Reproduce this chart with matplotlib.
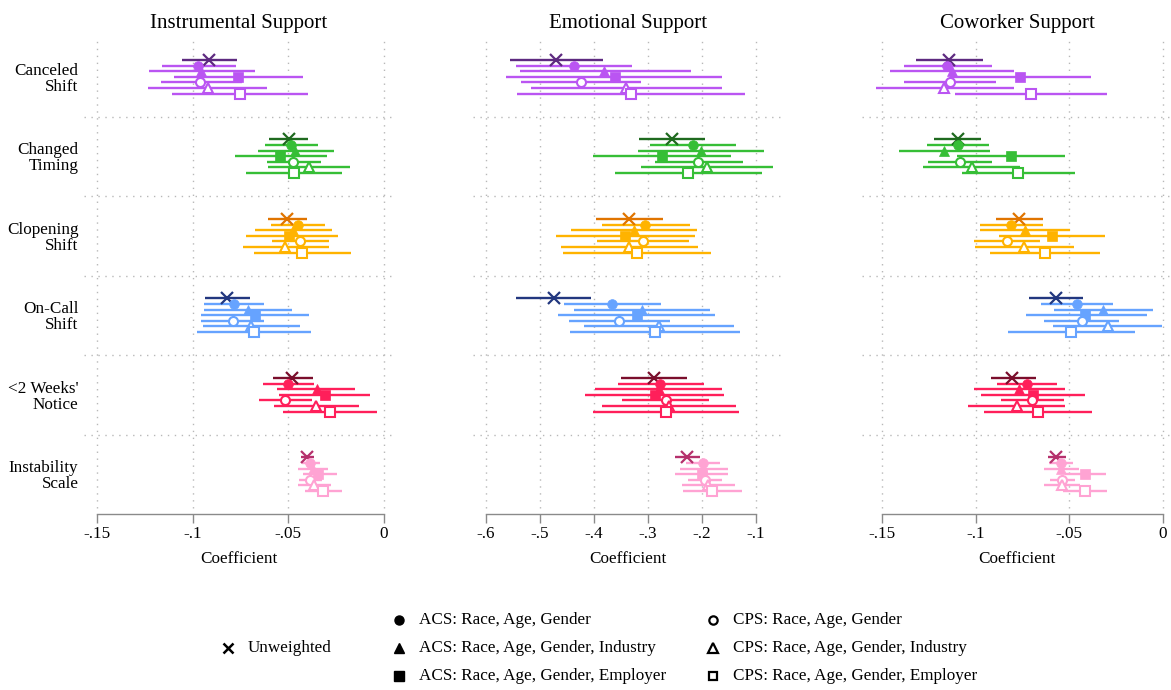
import matplotlib
matplotlib.use("Agg")
import matplotlib.pyplot as plt

plt.rcParams['font.family'] = ['Liberation Serif', 'DejaVu Serif']

categories = ["Canceled\nShift", "Changed\nTiming", "Clopening\nShift",
              "On-Call\nShift", "<2 Weeks'\nNotice", "Instability\nScale"]
models = ["Unweighted", "ACS: Race, Age, Gender", "ACS: Race, Age, Gender, Industry",
          "ACS: Race, Age, Gender, Employer", "CPS: Race, Age, Gender",
          "CPS: Race, Age, Gender, Industry", "CPS: Race, Age, Gender, Employer"]
panel_titles = ["Instrumental Support", "Emotional Support", "Coworker Support"]

# ---- Instrumental support ----
instr_est = [[-0.0913, -0.0970, -0.0957, -0.0762, -0.0962, -0.0922, -0.0755],
             [-0.0498, -0.0484, -0.0467, -0.0542, -0.0476, -0.0392, -0.0470],
             [-0.0509, -0.0450, -0.0474, -0.0495, -0.0437, -0.0516, -0.0427],
             [-0.0819, -0.0783, -0.0712, -0.0674, -0.0790, -0.0694, -0.0682],
             [-0.0481, -0.0502, -0.0352, -0.0307, -0.0517, -0.0354, -0.0285],
             [-0.0401, -0.0385, -0.0373, -0.0344, -0.0389, -0.0366, -0.0318]]
instr_lo = [[-0.1057, -0.1160, -0.1229, -0.1097, -0.1165, -0.1236, -0.1108],
            [-0.0602, -0.0622, -0.0660, -0.0780, -0.0611, -0.0608, -0.0720],
            [-0.0609, -0.0589, -0.0674, -0.0724, -0.0585, -0.0738, -0.0679],
            [-0.0938, -0.0939, -0.0943, -0.0955, -0.0955, -0.0948, -0.0977],
            [-0.0578, -0.0635, -0.0557, -0.0547, -0.0655, -0.0573, -0.0530],
            [-0.0434, -0.0430, -0.0448, -0.0425, -0.0443, -0.0448, -0.0413]]
instr_hi = [[-0.0767, -0.0773, -0.0677, -0.0424, -0.0741, -0.0611, -0.0398],
            [-0.0398, -0.0347, -0.0262, -0.0300, -0.0332, -0.0177, -0.0220],
            [-0.0403, -0.0309, -0.0273, -0.0243, -0.0290, -0.0290, -0.0174],
            [-0.0703, -0.0625, -0.0483, -0.0390, -0.0625, -0.0438, -0.0384],
            [-0.0373, -0.0366, -0.0151, -0.0073, -0.0378, -0.0130, -0.0035],
            [-0.0366, -0.0333, -0.0292, -0.0247, -0.0326, -0.0278, -0.0220]]

# ---- Emotional support ----
emo_est = [[-0.4698, -0.4377, -0.3809, -0.3617, -0.4241, -0.3407, -0.3315],
           [-0.2549, -0.2167, -0.2012, -0.2747, -0.2068, -0.1907, -0.2253],
           [-0.3352, -0.3050, -0.3253, -0.3420, -0.3093, -0.3358, -0.3198],
           [-0.4747, -0.3660, -0.3105, -0.3210, -0.3537, -0.2802, -0.2870],
           [-0.2895, -0.2772, -0.2800, -0.2877, -0.2673, -0.2611, -0.2673],
           [-0.2284, -0.1981, -0.1980, -0.2006, -0.1944, -0.1889, -0.1809]]
emo_lo = [[-0.5556, -0.5450, -0.5377, -0.5623, -0.5358, -0.5160, -0.5420],
          [-0.3167, -0.2969, -0.3185, -0.4025, -0.2877, -0.3136, -0.3611],
          [-0.3963, -0.3852, -0.4420, -0.4704, -0.3938, -0.4611, -0.4568],
          [-0.5438, -0.4550, -0.4377, -0.4667, -0.4469, -0.4191, -0.4444],
          [-0.3494, -0.3556, -0.3988, -0.4167, -0.3481, -0.3858, -0.4019],
          [-0.2506, -0.2290, -0.2414, -0.2500, -0.2259, -0.2370, -0.2358]]
emo_hi = [[-0.3827, -0.3296, -0.2204, -0.1623, -0.3123, -0.1623, -0.1204],
          [-0.1938, -0.1364, -0.0852, -0.1457, -0.1240, -0.0685, -0.0889],
          [-0.2722, -0.2228, -0.2086, -0.2136, -0.2241, -0.2074, -0.1827],
          [-0.4050, -0.2759, -0.1852, -0.1759, -0.2599, -0.1414, -0.1290],
          [-0.2284, -0.1969, -0.1623, -0.1593, -0.1864, -0.1364, -0.1315],
          [-0.2037, -0.1673, -0.1512, -0.1512, -0.1630, -0.1383, -0.1259]]

# ---- Coworker support ----
cow_est = [[-0.1143, -0.1151, -0.1127, -0.0763, -0.1136, -0.1167, -0.0705],
           [-0.1097, -0.1097, -0.1167, -0.0812, -0.1085, -0.1020, -0.0772],
           [-0.0769, -0.0810, -0.0738, -0.0590, -0.0833, -0.0742, -0.0630],
           [-0.0571, -0.0460, -0.0318, -0.0414, -0.0433, -0.0296, -0.0492],
           [-0.0805, -0.0728, -0.0769, -0.0692, -0.0701, -0.0780, -0.0669],
           [-0.0573, -0.0544, -0.0544, -0.0416, -0.0537, -0.0539, -0.0419]]
cow_lo = [[-0.1320, -0.1382, -0.1456, -0.1136, -0.1384, -0.1534, -0.1110],
          [-0.1220, -0.1259, -0.1409, -0.1099, -0.1256, -0.1279, -0.1074],
          [-0.0894, -0.0979, -0.0979, -0.0874, -0.1011, -0.1006, -0.0926],
          [-0.0715, -0.0649, -0.0582, -0.0731, -0.0633, -0.0587, -0.0828],
          [-0.0920, -0.0888, -0.1011, -0.0970, -0.0867, -0.1042, -0.0958],
          [-0.0615, -0.0610, -0.0637, -0.0524, -0.0603, -0.0635, -0.0535]]
cow_hi = [[-0.0961, -0.0915, -0.0797, -0.0384, -0.0892, -0.0797, -0.0298],
          [-0.0972, -0.0929, -0.0924, -0.0523, -0.0913, -0.0762, -0.0471],
          [-0.0640, -0.0640, -0.0498, -0.0310, -0.0655, -0.0474, -0.0334],
          [-0.0428, -0.0269, -0.0052, -0.0087, -0.0234, -0.0004, -0.0152],
          [-0.0676, -0.0565, -0.0524, -0.0416, -0.0530, -0.0523, -0.0378],
          [-0.0517, -0.0478, -0.0450, -0.0307, -0.0469, -0.0441, -0.0300]]

panel_ticks = [[-0.15, -0.1, -0.05, 0], [-0.6, -0.5, -0.4, -0.3, -0.2, -0.1],
               [-0.15, -0.1, -0.05, 0]]
panel_ticklabels = [["-.15", "-.1", "-.05", "0"], ["-.6", "-.5", "-.4", "-.3", "-.2", "-.1"],
                    ["-.15", "-.1", "-.05", "0"]]
panel_xlim = [(-0.1568, 0.0052), (-0.624, -0.05), (-0.1607, 0.0048)]

light_colors = ["#BA55F2", "#36BE36", "#FFB300", "#66A3FF", "#FF1F5A", "#FFA3D3"]
dark_colors = ["#5E2A80", "#1F6A1F", "#E07400", "#22377F", "#7A0E2C", "#B5306C"]

markers = ["x", "o", "^", "s", "o", "^", "s"]
filled = [True, True, True, True, False, False, False]
msizes = [8, 7, 7.5, 7, 6.5, 7, 6.5]

FS = 12.3
W, H = 1171, 690
fig = plt.figure(figsize=(W / 100, H / 100), dpi=100)

panel_data = [(instr_est, instr_lo, instr_hi), (emo_est, emo_lo, emo_hi),
              (cow_est, cow_lo, cow_hi)]
ax_lefts = [84, 473, 862]
ax_w = 310
ax_top, ax_bot = 37, 514
spacing = 0.0704

for p in range(3):
    ax = fig.add_axes([ax_lefts[p] / W, 1 - ax_bot / H, ax_w / W, (ax_bot - ax_top) / H])
    est, lo, hi = panel_data[p]
    ax.set_xlim(*panel_xlim[p])
    ax.set_ylim(5.5, -0.5)
    for t in panel_ticks[p]:
        ax.axvline(t, color="#B8B8B8", lw=1.0, ls=(0, (1, 4)), ymin=0.012, ymax=0.995, zorder=0)
    for i in range(1, 6):
        ax.axhline(i - 0.5, color="#B8B8B8", lw=1.0, ls=(0, (1, 4)), zorder=0)
    for i in range(len(categories)):
        for j in range(len(models)):
            y = i + (j - 3) * spacing
            col = dark_colors[i] if j == 0 else light_colors[i]
            ax.plot([lo[i][j], hi[i][j]], [y, y], color=col, lw=1.7,
                    solid_capstyle="butt", zorder=2)
    for i in range(len(categories)):
        for j in range(len(models)):
            y = i + (j - 3) * spacing
            col = dark_colors[i] if j == 0 else light_colors[i]
            if j == 0:
                ax.plot(est[i][j], y, marker="x", color=col, ms=msizes[j], mew=1.6,
                        ls="none", zorder=3)
            elif filled[j]:
                ax.plot(est[i][j], y, marker=markers[j], color=col, ms=msizes[j],
                        mec=col, mew=0.5, ls="none", zorder=3)
            else:
                ax.plot(est[i][j], y, marker=markers[j], mfc="white", mec=col,
                        ms=msizes[j], mew=1.5, ls="none", zorder=3)
    for s in ["top", "right", "left"]:
        ax.spines[s].set_visible(False)
    ax.spines["bottom"].set_bounds(panel_ticks[p][0], panel_ticks[p][-1])
    ax.spines["bottom"].set_color("#8A8A8A")
    ax.spines["bottom"].set_linewidth(1.0)
    ax.set_xticks(panel_ticks[p])
    ax.set_xticklabels(panel_ticklabels[p], fontsize=FS)
    ax.tick_params(axis="x", length=6.5, width=1.0, color="#8A8A8A", pad=2.5)
    ax.set_xlabel("Coefficient", fontsize=FS, labelpad=6)
    ax.set_title(panel_titles[p], fontsize=15, pad=6.5)
    if p == 0:
        ax.set_yticks(range(len(categories)))
        ax.set_yticklabels(categories, fontsize=FS, linespacing=0.98)
        ax.tick_params(axis="y", length=0, pad=4)
    else:
        ax.set_yticks([])

# ---- Legend ----
lax = fig.add_axes([0, 0, 1, 1], facecolor="none")
lax.set_xlim(0, W)
lax.set_ylim(H, 0)
lax.axis("off")
leg_pos = [(228, 648), (399, 620), (399, 648), (399, 676), (713, 620), (713, 648), (713, 676)]
for j, (mx, my) in enumerate(leg_pos):
    if j == 0:
        lax.plot(mx, my, marker="x", color="black", ms=7.5, mew=1.8, ls="none")
    elif filled[j]:
        lax.plot(mx, my, marker=markers[j], color="black", ms=msizes[j] - 0.5, ls="none")
    else:
        lax.plot(mx, my, marker=markers[j], mfc="white", mec="black",
                 ms=msizes[j] - 0.5, mew=1.6, ls="none")
    lax.text(mx + 20, my, models[j], fontsize=FS, va="center", ha="left")

fig.savefig("out.png", dpi=100)
